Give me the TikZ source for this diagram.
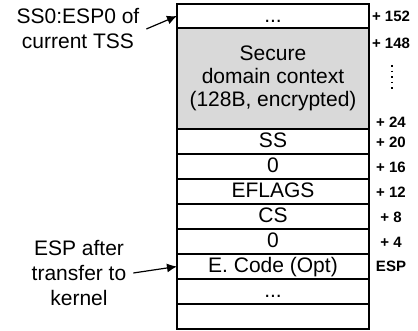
\documentclass[tikz,border=0pt]{standalone}
\usepackage{fontspec}
\setmainfont{Liberation Sans}
\usetikzlibrary{positioning,arrows.meta}

\definecolor{ctxgray}{HTML}{D9D9D9}

\tikzset{
	cell/.style={rectangle,draw,line width=1pt,outer sep=0pt,inner sep=0pt,minimum width=96pt,minimum height=12.5pt,font=\fontsize{10.5}{11.5}\selectfont},
	row/.style={cell,text height=8pt,text depth=1.5pt},
	offs/.style={font=\bfseries\fontsize{7.5}{9}\selectfont,inner sep=0pt},
	side/.style={align=center,font=\fontsize{10.5}{12.5}\selectfont},
	pointer/.style={-{Latex[length=5pt,width=4.5pt]},line width=0.6pt}
}

\begin{document}
\begin{tikzpicture}[x=0.5pt,y=0.5pt]
	
	\useasboundingbox (0,0) rectangle (418,331);
	
	% stack, top to bottom
	\node(topdots) [row,minimum height=12pt] at (273,315) {...};
	
	\node(context) [cell,fill=ctxgray,minimum height=50.5pt,align=center,below=0pt of topdots] {Secure\\domain context\\(128B, encrypted)};
	
	\node(ss) [row,below=0pt of context] {SS};
	
	\node(zeroa) [row,below=0pt of ss] {0};
	
	\node(eflags) [row,below=0pt of zeroa] {EFLAGS};
	
	\node(cs) [row,below=0pt of eflags] {CS};
	
	\node(zerob) [row,below=0pt of cs] {0};
	
	\node(ecode) [row,below=0pt of zerob] {E. Code (Opt)};
	
	\node(botdots) [row,below=0pt of ecode] {...};
	
	\node(empty) [row,below=0pt of botdots] {};
	
	% offsets
	\node(off152) [offs] at (391,315) {+ 152};
	
	\node(off148) [offs] at (391,288) {+ 148};
	
	\node(off24) [offs] at (391,209) {+ 24};
	
	\node(off20) [offs] at (391,189) {+ 20};
	
	\node(off16) [offs] at (391,164) {+ 16};
	
	\node(off12) [offs] at (391,139) {+ 12};
	
	\node(off8) [offs] at (391,114) {+ 8};
	
	\node(off4) [offs] at (391,89) {+ 4};
	
	\node(offesp) [offs] at (391,65) {ESP};
	
	\coordinate (dottop) at (392,266);
	
	\coordinate (dotbot) at (392,241);
	
	\draw[dotted,line width=0.8pt] (dottop) -- (dotbot);
	
	% pointers
	\node(tsslabel) [side] at (78,302) {SS0:ESP0 of\\current TSS};
	
	\node(esplabel) [side] at (79,58) {ESP after\\transfer to\\kernel};
	
	\draw[pointer] (tsslabel.east) -- (topdots.west);
	
	\draw[pointer] (esplabel.east) -- (ecode.west);
	
\end{tikzpicture}
\end{document}
